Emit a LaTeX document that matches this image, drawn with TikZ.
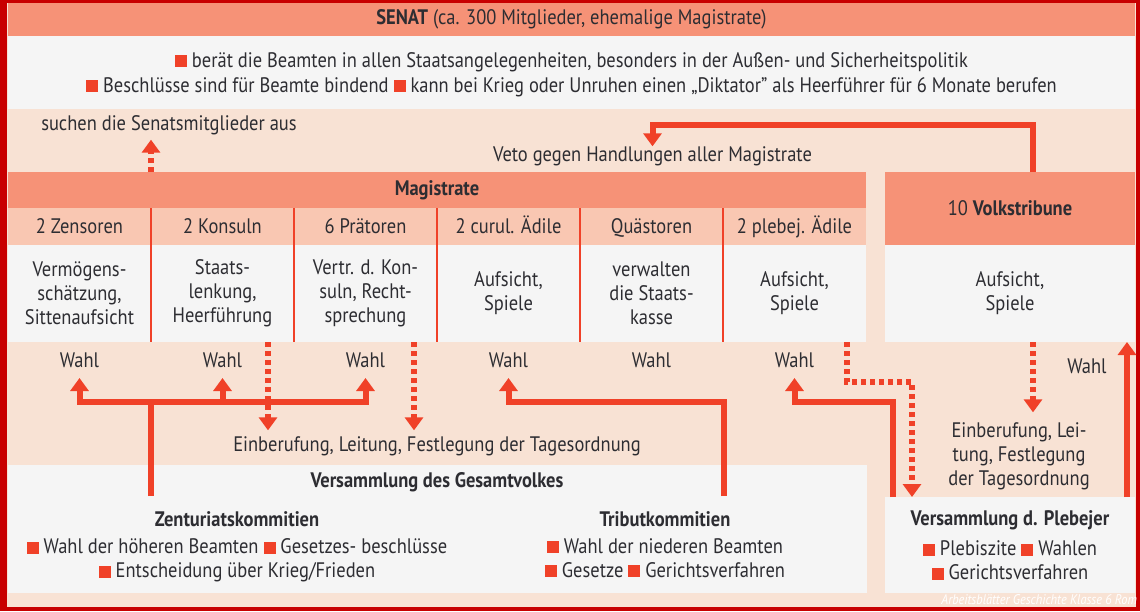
\documentclass[tikz,border=0pt]{standalone}
\usepackage{fontspec}
\setmainfont{PT Sans}[FakeStretch=0.88]
\usepackage{tikz}
\usetikzlibrary{arrows.meta, positioning}
\definecolor{framered}{RGB}{200, 0, 0}
\definecolor{peach}{RGB}{248, 226, 212}
\definecolor{salmon}{RGB}{246, 146, 119}
\definecolor{midsalmon}{RGB}{249, 199, 178}
\definecolor{boxwhite}{RGB}{245, 245, 245}
\definecolor{accent}{RGB}{240, 65, 40}
\definecolor{textgray}{RGB}{45, 45, 50}
\newcommand{\blt}{\textcolor{accent}{\rule{12pt}{12pt}}}

\begin{document}
\begin{tikzpicture}[
    x=1pt, y=-1pt,
    font=\fontsize{21}{24}\selectfont,
    every node/.style={text=textgray, inner sep=0pt, outer sep=0pt},
    bar/.style={fill=salmon, minimum height=36pt},
    colhead/.style={fill=midsalmon, minimum width=143pt, minimum height=37pt, text height=17pt, text depth=4pt},
    coldesc/.style={fill=boxwhite, minimum width=143pt, minimum height=97pt, align=center},
    wahl/.style={minimum height=36pt, text height=17pt, text depth=2pt},
    sep/.style={accent, line width=1.5pt},
    arrow/.style={-{Triangle[width=18pt, length=13pt]}, line width=6pt, accent},
    dotarrow/.style={arrow, dash pattern=on 5pt off 4pt}
]
    % Frame
    \useasboundingbox (0,0) rectangle (1140,611);
    \fill[framered] (0,0) rectangle (1140,611);
    \fill[peach] (7,3) rectangle (1136,607);

    % Nodes - Senat
    \node[bar, minimum width=1127pt, minimum height=33pt] (senat) at (571.5,19.5) {\textbf{SENAT} (ca. 300 Mitglieder, ehemalige Magistrate)};
    \node[fill=boxwhite, minimum width=1127pt, minimum height=73pt, below=0pt of senat] (senatinfo) {};
    \node[align=center] (senattext) at (571.5,74.5) {\blt{} berät die Beamten in allen Staatsangelegenheiten, besonders in der Außen- und Sicherheitspolitik\\[1pt]\blt{} Beschlüsse sind für Beamte bindend \blt{} kann bei Krieg oder Unruhen einen „Diktator” als Heerführer für 6 Monate berufen};
    \node (suchen) at (169,125) {suchen die Senatsmitglieder aus};
    \node (veto) at (652.5,156) {Veto gegen Handlungen aller Magistrate};

    % Nodes - Magistrate
    \node[bar, minimum width=858pt] (mag) at (437,190) {\textbf{Magistrate}};
    \node[colhead] (zens) at (79.5,226.5) {2 Zensoren};
    \node[colhead, right=0pt of zens] (kons) {2 Konsuln};
    \node[colhead, right=0pt of kons] (praet) {6 Prätoren};
    \node[colhead, right=0pt of praet] (aedcur) {2 curul. Ädile};
    \node[colhead, right=0pt of aedcur] (quaest) {Quästoren};
    \node[colhead, right=0pt of quaest] (aedpl) {2 plebej. Ädile};

    \node[coldesc, below=0pt of zens] (zensdesc) {Vermögens-\\schätzung,\\Sittenaufsicht};
    \node[coldesc, below=0pt of kons] (konsdesc) {Staats-\\lenkung,\\Heerführung};
    \node[coldesc, below=0pt of praet] (praetdesc) {Vertr. d. Kon-\\suln, Recht-\\sprechung};
    \node[coldesc, below=0pt of aedcur] (aedcurdesc) {Aufsicht,\\Spiele};
    \node[coldesc, below=0pt of quaest] (quaestdesc) {verwalten\\die Staats-\\kasse};
    \node[coldesc, below=0pt of aedpl] (aedpldesc) {Aufsicht,\\Spiele};

    \node[wahl, below=0pt of zensdesc] (wahl1) {Wahl};
    \node[wahl, below=0pt of konsdesc] (wahl2) {Wahl};
    \node[wahl, below=0pt of praetdesc] (wahl3) {Wahl};
    \node[wahl, below=0pt of aedcurdesc] (wahl4) {Wahl};
    \node[wahl, below=0pt of quaestdesc] (wahl5) {Wahl};
    \node[wahl, below=0pt of aedpldesc] (wahl6) {Wahl};

    \draw[sep] (zens.north east) -- (zensdesc.south east);
    \draw[sep] (kons.north east) -- (konsdesc.south east);
    \draw[sep] (praet.north east) -- (praetdesc.south east);
    \draw[sep] (aedcur.north east) -- (aedcurdesc.south east);
    \draw[sep] (quaest.north east) -- (quaestdesc.south east);

    % Nodes - Volkstribune
    \node[bar, minimum width=250pt, minimum height=73pt] (tribhead) at (1010,208.5) {10 \textbf{Volkstribune}};
    \node[coldesc, minimum width=250pt, below=0pt of tribhead] (tribdesc) {Aufsicht,\\Spiele};
    \node (tribwahl) at (1087,366) {Wahl};

    % Nodes - Versammlungen
    \node (einb) at (437,446) {Einberufung, Leitung, Festlegung der Tagesordnung};
    \node[fill=boxwhite, minimum width=859pt, minimum height=128pt] (gesamt) at (437.5,529) {};
    \node (gesamttitle) at (437,482) {\textbf{Versammlung des Gesamtvolkes}};
    \node (zent) at (237,519) {\textbf{Zenturiatskommitien}};
    \node[align=center, below=12pt of zent] (zentlist) {\blt{} Wahl der höheren Beamten \blt{} Gesetzes- beschlüsse\\\blt{} Entscheidung über Krieg/Frieden};
    \node (tribut) at (665,519) {\textbf{Tributkommitien}};
    \node[align=center, below=12pt of tribut] (tributlist) {\blt{} Wahl der niederen Beamten\\\blt{} Gesetze \blt{} Gerichtsverfahren};

    \node[align=center] (einbpl) at (1019,456) {Einberufung, Lei-\\tung, Festlegung\\der Tagesordnung};
    \node[fill=boxwhite, minimum width=250pt, minimum height=96pt] (plebs) at (1010,545) {};
    \node (plebstitle) at (1010,520) {\textbf{Versammlung d. Plebejer}};
    \node[align=center, below=11pt of plebstitle] (plebslist) {\blt{} Plebiszite \blt{} Wahlen\\\blt{} Gerichtsverfahren};

    \node[text=white, font=\fontsize{14}{16}\selectfont\itshape, anchor=east] (wm) at (1137,600) {Arbeitsblätter Geschichte Klasse 6 Rom};

    % Coordinates
    \coordinate (zentfoot) at (151,496);
    \coordinate (zentjoin) at (151,402);
    \coordinate (tribfoot) at (724,496);
    \coordinate (plebfoot) at (893,497);

    % Arrows
    \draw[dotarrow, shorten >=5pt] (zens.east |- mag.north) -- (zens.east |- suchen.south);
    \draw[arrow] ([xshift=23pt]tribhead.north) -- ++(0,-47) -| (veto.north);
    \draw[arrow] (zentfoot) -- (zentjoin) -| (wahl1.south);
    \draw[arrow] (zentjoin) -| (wahl2.south);
    \draw[arrow] (zentjoin) -| (wahl3.south);
    \draw[arrow] (tribfoot) -- (tribfoot |- zentjoin) -| (wahl4.south);
    \draw[arrow] (plebfoot) -- (plebfoot |- zentjoin) -| (wahl6.south);
    \draw[arrow] ([xshift=-8pt]plebs.north east) -- ([xshift=-8pt]tribdesc.south east);
    \draw[dotarrow, shorten >=6pt] ([xshift=-26pt]konsdesc.south east) -- ([xshift=-26pt]konsdesc.south east |- einb.north);
    \draw[dotarrow, shorten >=6pt] ([xshift=-23pt]praetdesc.south east) -- ([xshift=-23pt]praetdesc.south east |- einb.north);
    \draw[dotarrow] ([xshift=-19pt]aedpldesc.south east) -- ++(0,40) -| ([xshift=27pt]plebs.north west);
    \draw[dotarrow, shorten >=10pt] ([xshift=23pt]tribdesc.south) -- ([xshift=23pt]tribdesc.south |- einbpl.north);
\end{tikzpicture}
\end{document}
